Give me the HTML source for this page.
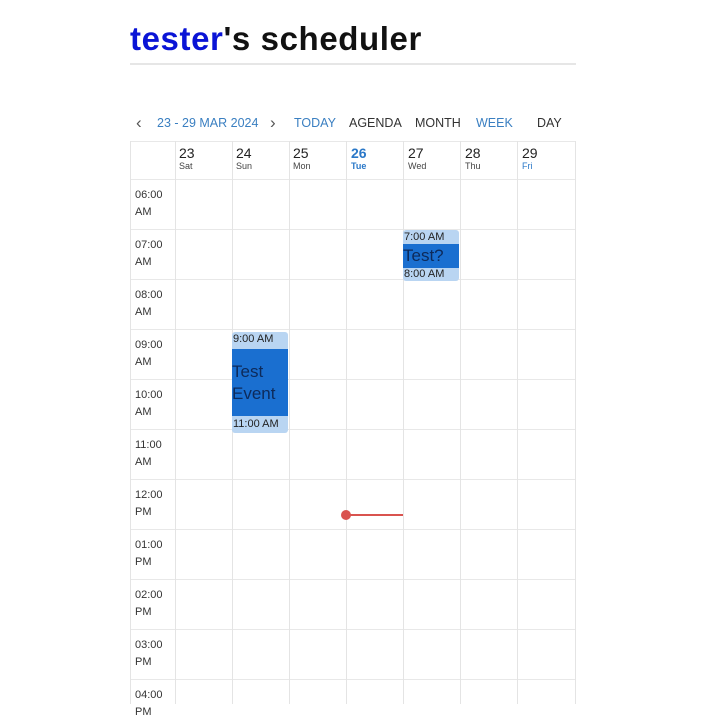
<!DOCTYPE html>
<html><head><style>
body{margin:0;width:704px;height:704px;background:#fff;position:relative;overflow:hidden;font-family:"Liberation Sans",Arial,sans-serif;}
.a{position:absolute;}
.t{font-size:11px;color:#333;line-height:17px;}
.hl{position:absolute;left:130px;width:446px;height:1px;background:#e8e8e8;}
.vl{position:absolute;top:141px;width:1px;height:563px;background:#e4e4e4;}
.dn{font-size:14px;color:#222;}
.dd{font-size:9px;color:#444;}
</style></head><body>
<div class="a" style="left:130px;top:20px;font-size:33px;font-weight:bold;color:#111;letter-spacing:0.6px;"><span style="color:#0a14d6">tester</span>'s scheduler</div>
<div class="a" style="left:130px;top:63px;width:446px;height:2px;background:#e6e6e6"></div>

<div class="a" style="top:113px;left:136px;font-size:17px;color:#555;">‹</div>
<div class="a" style="top:116px;left:157px;font-size:12.5px;color:#3a7fc1;">23 - 29 MAR 2024</div>
<div class="a" style="top:113px;left:270px;font-size:17px;color:#555;">›</div>
<div class="a" style="top:116px;left:294px;font-size:12.5px;color:#3a7fc1;">TODAY</div>
<div class="a" style="top:116px;left:349px;font-size:12.5px;color:#333;">AGENDA</div>
<div class="a" style="top:116px;left:415px;font-size:12.5px;color:#333;">MONTH</div>
<div class="a" style="top:116px;left:476px;font-size:12.5px;color:#3a7fc1;">WEEK</div>
<div class="a" style="top:116px;left:537px;font-size:12.5px;color:#333;">DAY</div>

<div class="hl" style="top:141px"></div>
<div class="hl" style="top:179px"></div>
<div class="hl" style="top:229px"></div>
<div class="hl" style="top:279px"></div>
<div class="hl" style="top:329px"></div>
<div class="hl" style="top:379px"></div>
<div class="hl" style="top:429px"></div>
<div class="hl" style="top:479px"></div>
<div class="hl" style="top:529px"></div>
<div class="hl" style="top:579px"></div>
<div class="hl" style="top:629px"></div>
<div class="hl" style="top:679px"></div>
<div class="vl" style="left:130px"></div>
<div class="vl" style="left:175px"></div>
<div class="vl" style="left:232px"></div>
<div class="vl" style="left:289px"></div>
<div class="vl" style="left:346px"></div>
<div class="vl" style="left:403px"></div>
<div class="vl" style="left:460px"></div>
<div class="vl" style="left:517px"></div>
<div class="vl" style="left:575px"></div>

<div class="a" style="left:179px;top:145px"><div class="dn">23</div><div class="dd">Sat</div></div>
<div class="a" style="left:236px;top:145px"><div class="dn">24</div><div class="dd">Sun</div></div>
<div class="a" style="left:293px;top:145px"><div class="dn">25</div><div class="dd">Mon</div></div>
<div class="a" style="left:351px;top:145px;color:#2a78c8;font-weight:bold"><div class="dn" style="color:#2a78c8">26</div><div class="dd" style="color:#2a78c8">Tue</div></div>
<div class="a" style="left:408px;top:145px"><div class="dn">27</div><div class="dd">Wed</div></div>
<div class="a" style="left:465px;top:145px"><div class="dn">28</div><div class="dd">Thu</div></div>
<div class="a" style="left:522px;top:145px"><div class="dn">29</div><div class="dd" style="color:#2a78c8">Fri</div></div>

<div class="a t" style="left:135px;top:187px">06:00<br>AM</div>
<div class="a t" style="left:135px;top:237px">07:00<br>AM</div>
<div class="a t" style="left:135px;top:287px">08:00<br>AM</div>
<div class="a t" style="left:135px;top:337px">09:00<br>AM</div>
<div class="a t" style="left:135px;top:387px">10:00<br>AM</div>
<div class="a t" style="left:135px;top:437px">11:00<br>AM</div>
<div class="a t" style="left:135px;top:487px">12:00<br>PM</div>
<div class="a t" style="left:135px;top:537px">01:00<br>PM</div>
<div class="a t" style="left:135px;top:587px">02:00<br>PM</div>
<div class="a t" style="left:135px;top:637px">03:00<br>PM</div>
<div class="a t" style="left:135px;top:687px">04:00<br>PM</div>

<div class="a" style="left:232px;top:332px;width:56px;height:101px;background:#b9d5f2;border-radius:3px;"></div>
<div class="a" style="left:232px;top:349px;width:56px;height:67px;background:#1a6fd0;"></div>
<div class="a" style="left:233px;top:333px;font-size:11px;color:#222">9:00 AM</div>
<div class="a" style="left:232px;top:361px;font-size:17px;color:#0d2a5a;line-height:22px">Test<br>Event</div>
<div class="a" style="left:233px;top:418px;font-size:11px;color:#222">11:00 AM</div>

<div class="a" style="left:403px;top:230px;width:56px;height:51px;background:#b9d5f2;border-radius:3px;"></div>
<div class="a" style="left:403px;top:244px;width:56px;height:24px;background:#1a6fd0;"></div>
<div class="a" style="left:404px;top:231px;font-size:11px;color:#222">7:00 AM</div>
<div class="a" style="left:403px;top:246px;font-size:17px;color:#0d2a5a;">Test?</div>
<div class="a" style="left:404px;top:268px;font-size:11px;color:#222">8:00 AM</div>

<div class="a" style="left:341px;top:510px;width:10px;height:10px;border-radius:50%;background:#d9534f"></div>
<div class="a" style="left:346px;top:514px;width:57px;height:2px;background:#d9534f"></div>
</body></html>
